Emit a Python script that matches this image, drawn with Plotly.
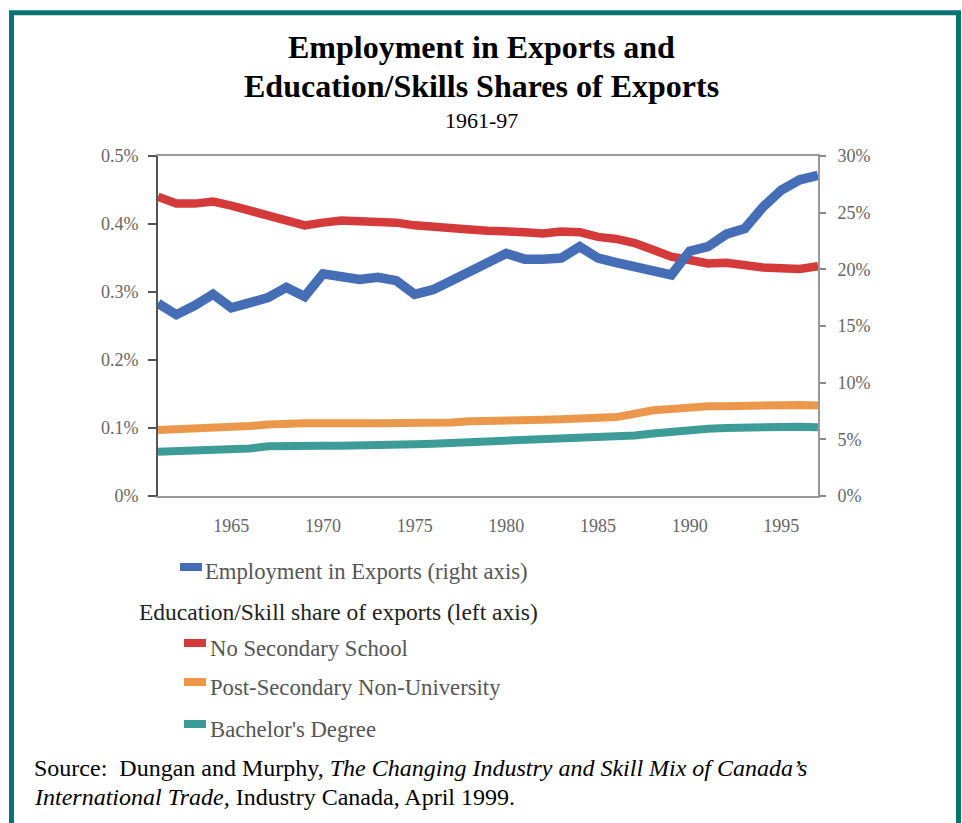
import plotly.graph_objects as go

years = list(range(1961, 1998))

employment_exports = [17.0, 16.0, 16.8, 17.8, 16.6, 17.1, 17.5, 18.4, 17.6, 19.6,
                      19.3, 19.1, 19.3, 19.0, 17.8, 18.2, 19.0, 19.9, 20.6, 21.4,
                      20.9, 20.9, 21.0, 22.0, 21.0, 20.6, 20.3, 20.0, 19.5, 21.6,
                      22.0, 23.1, 23.6, 25.5, 27.0, 27.9, 28.3]

no_secondary = [0.440, 0.430, 0.430, 0.433, 0.427, 0.419, 0.411, 0.405, 0.398, 0.402,
                0.405, 0.404, 0.404, 0.402, 0.398, 0.395, 0.395, 0.392, 0.390, 0.390,
                0.388, 0.386, 0.389, 0.388, 0.381, 0.378, 0.372, 0.362, 0.352, 0.347,
                0.342, 0.343, 0.339, 0.336, 0.335, 0.334, 0.338]

post_secondary = [0.097, 0.098, 0.099, 0.099, 0.100, 0.103, 0.105, 0.107, 0.107, 0.107,
                  0.106, 0.107, 0.107, 0.107, 0.109, 0.109, 0.108, 0.110, 0.110, 0.111,
                  0.112, 0.112, 0.113, 0.114, 0.115, 0.116, 0.121, 0.126, 0.128, 0.131,
                  0.132, 0.132, 0.133, 0.134, 0.134, 0.134, 0.133]

bachelor = [0.065, 0.066, 0.067, 0.067, 0.067, 0.070, 0.073, 0.074, 0.074, 0.074,
            0.074, 0.074, 0.074, 0.075, 0.076, 0.077, 0.078, 0.079, 0.080, 0.080,
            0.081, 0.082, 0.084, 0.085, 0.086, 0.087, 0.089, 0.092, 0.095, 0.097,
            0.099, 0.100, 0.101, 0.101, 0.102, 0.102, 0.101]

left_ticks = [0, 0.1, 0.2, 0.3, 0.4, 0.5]
left_labels = ["0%", "0.1%", "0.2%", "0.3%", "0.4%", "0.5%"]
right_ticks = [0, 5, 10, 15, 20, 25, 30]
right_labels = ["0%", "5%", "10%", "15%", "20%", "25%", "30%"]
x_ticks = [1965, 1970, 1975, 1980, 1985, 1990, 1995]

BLUE = "rgb(70,110,182)"
RED = "rgb(212,58,58)"
ORANGE = "rgb(236,152,76)"
TEAL = "rgb(62,156,152)"
SERIF = "Liberation Serif, Times New Roman, serif"

# plot area in pixels
PL, PR, PT, PB = 158, 818, 156, 496


def px(x):
    return (x - PL) / (PR - PL)


def py(y):
    return (PB - y) / (PB - PT)


fig = go.Figure()
fig.add_trace(go.Scatter(x=years, y=bachelor, mode="lines", name="Bachelor's Degree",
                         line=dict(color=TEAL, width=8), yaxis="y"))
fig.add_trace(go.Scatter(x=years, y=post_secondary, mode="lines", name="Post-Secondary Non-University",
                         line=dict(color=ORANGE, width=8), yaxis="y"))
fig.add_trace(go.Scatter(x=years, y=no_secondary, mode="lines", name="No Secondary School",
                         line=dict(color=RED, width=8.5), yaxis="y"))
fig.add_trace(go.Scatter(x=years, y=employment_exports, mode="lines", name="Employment in Exports (right axis)",
                         line=dict(color=BLUE, width=9.5), yaxis="y2"))

tickfont = dict(family=SERIF, size=18, color="#666")

fig.update_layout(
    width=962, height=823,
    margin=dict(l=PL, r=962 - PR, t=PT, b=823 - PB),
    paper_bgcolor="white", plot_bgcolor="white",
    showlegend=False,
    xaxis=dict(range=[1961, 1997], tickvals=x_ticks, ticks="", showgrid=False, zeroline=False,
               showline=True, linecolor="#999", linewidth=2, mirror=True,
               tickfont=tickfont, ticklabelstandoff=12),
    yaxis=dict(range=[0, 0.5], tickvals=left_ticks, ticktext=left_labels, ticks="outside",
               ticklen=8, tickcolor="#555", tickwidth=1.5, showgrid=False, zeroline=False,
               showline=True, linecolor="#555", linewidth=2, tickfont=tickfont,
               ticklabelstandoff=6),
    yaxis2=dict(range=[0, 30], tickvals=right_ticks, ticktext=right_labels, ticks="outside",
                ticklen=6, tickcolor="#888", tickwidth=1.5, showgrid=False, zeroline=False,
                showline=True, linecolor="#999", linewidth=2, overlaying="y", side="right",
                tickfont=tickfont, ticklabelstandoff=8),
)

anns = []
titles = [
    ("<b>Employment in Exports and</b>", 47, 32),
    ("<b>Education/Skills Shares of Exports</b>", 86, 32),
    ("1961-97", 121, 22),
]
for text, yy, size in titles:
    anns.append(dict(text=text, x=px(481), y=py(yy), xref="paper", yref="paper",
                     xanchor="center", yanchor="middle", showarrow=False,
                     font=dict(family=SERIF, size=size, color="black")))

legend_items = [
    ("Employment in Exports (right axis)", BLUE, 180, 567, 203, 571),
    ("No Secondary School", RED, 184, 643, 208, 648),
    ("Post-Secondary Non-University", ORANGE, 184, 682, 208, 687),
    ("Bachelor's Degree", TEAL, 184, 724, 208, 729),
]
shapes = []
for label, color, sx, sy, tx, ty in legend_items:
    shapes.append(dict(type="rect", xref="paper", yref="paper",
                       x0=px(sx), x1=px(sx + 22), y0=py(sy - 4), y1=py(sy + 4),
                       fillcolor=color, line=dict(width=0)))
    anns.append(dict(text=label, x=px(tx), y=py(ty), xref="paper", yref="paper",
                     xanchor="left", yanchor="middle", showarrow=False,
                     font=dict(family=SERIF, size=22.7, color="#555")))
anns.append(dict(text="Education/Skill share of exports (left axis)", x=px(137), y=py(612),
                 xref="paper", yref="paper", xanchor="left", yanchor="middle", showarrow=False,
                 font=dict(family=SERIF, size=23.5, color="#222")))

anns.append(dict(text="Source:  Dungan and Murphy, <i>The Changing Industry and Skill Mix of Canada’s</i>",
                 x=px(32), y=py(768), xref="paper", yref="paper", xanchor="left", yanchor="middle",
                 showarrow=False, font=dict(family=SERIF, size=24, color="black")))
anns.append(dict(text="<i>International Trade,</i> Industry Canada, April 1999.",
                 x=px(32), y=py(797), xref="paper", yref="paper", xanchor="left", yanchor="middle",
                 showarrow=False, font=dict(family=SERIF, size=24, color="black")))

# teal frame
shapes.append(dict(type="rect", xref="paper", yref="paper",
                   x0=px(11.5), x1=px(958.5), y0=py(12.8), y1=py(840),
                   line=dict(color="rgb(10,115,115)", width=5), fillcolor="rgba(0,0,0,0)"))

fig.update_layout(annotations=anns, shapes=shapes)
fig.write_html("out.html")
